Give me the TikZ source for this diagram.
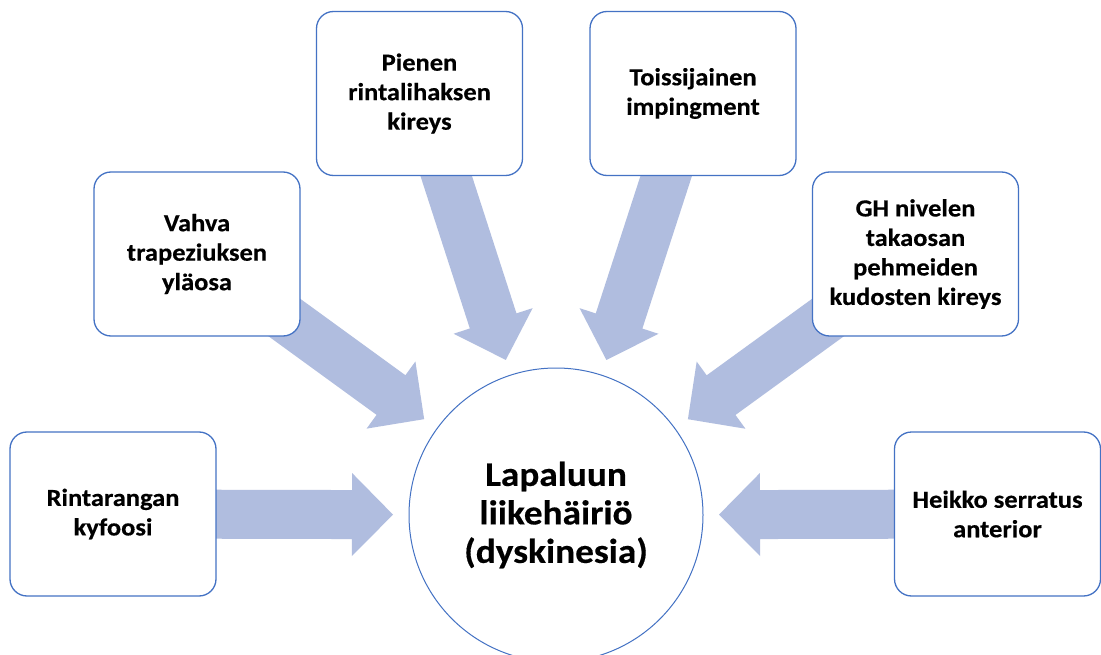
\documentclass[tikz,border=0pt]{standalone}
\usepackage{fontspec}
\setmainfont{Carlito}[FakeStretch=1.08, BoldFeatures={FakeBold=0.4}]
\usetikzlibrary{calc,backgrounds}
\definecolor{boxblue}{HTML}{4472C4}
\definecolor{arrowfill}{RGB}{176,189,223}
\tikzset{
  causebox/.style={draw=boxblue, line width=1.3pt, fill=white, rounded corners=17pt,
    minimum width=206pt, minimum height=164pt, inner sep=0pt, align=center,
    font=\fontsize{24.5}{29.5}\selectfont\bfseries},
  effectcircle/.style={circle, draw=boxblue, line width=1pt, fill=white,
    minimum size=294pt, inner sep=0pt, align=center,
    font=\fontsize{34.5}{38.5}\selectfont\bfseries},
  blockarrow/.style={fill=arrowfill, draw=none}
}
% #1 = source node, #2 = target node
\newcommand\causearrow[2]{%
  \coordinate (T) at ($(#2.center)!163pt!(#1.center)$);
  \coordinate (H) at ($(#2.center)!204pt!(#1.center)$);
  \fill[blockarrow]
    ($(#1.center)!24.5pt!90:(T)$) --
    ($(H)!24.5pt!90:(T)$) --
    ($(H)!41.5pt!90:(T)$) --
    (T) --
    ($(H)!41.5pt!-90:(T)$) --
    ($(H)!24.5pt!-90:(T)$) --
    ($(#1.center)!24.5pt!-90:(T)$) -- cycle;
}
\begin{document}
\begin{tikzpicture}[x=1pt, y=-1pt]
\useasboundingbox (0,0) rectangle (1101,655);
\clip (0,0) rectangle (1101,655);

\node[effectcircle] (c) at (556,515) {Lapaluun\\liikehäiriö\\(dyskinesia)};

\node[causebox] (rk) at (113,514) {Rintarangan\\kyfoosi};
\node[causebox] (vt) at (197,254) {Vahva\\trapeziuksen\\yläosa};
\node[causebox] (pr) at (419.5,93.5) {Pienen\\rintalihaksen\\kireys};
\node[causebox] (ti) at (693,93.5) {Toissijainen\\impingment};
\node[causebox] (gh) at (915.5,254) {GH nivelen\\takaosan\\pehmeiden\\kudosten kireys};
\node[causebox] (hs) at (997.5,514) {Heikko serratus\\anterior};

\begin{scope}[on background layer]
  \fill[white] (0,0) rectangle (1101,655);
  \causearrow{rk}{c}
  \causearrow{vt}{c}
  \causearrow{pr}{c}
  \causearrow{ti}{c}
  \causearrow{gh}{c}
  \causearrow{hs}{c}
\end{scope}
\end{tikzpicture}
\end{document}
